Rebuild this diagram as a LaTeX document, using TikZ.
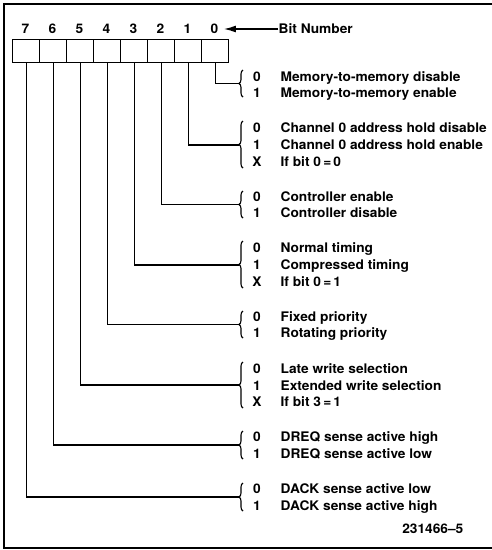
\documentclass[tikz,border=0pt]{standalone}
\usepackage{fontspec}
\setmainfont{TeX Gyre Heros}[FakeStretch=1.04]
\usetikzlibrary{decorations.pathreplacing,arrows.meta}
\begin{document}
\begin{tikzpicture}[x=1pt,y=-1pt,line width=1.3pt,
  bitbox/.style={draw,minimum width=27pt,minimum height=23pt,inner sep=0pt,anchor=north west},
  txt/.style={font=\bfseries\fontsize{13.2}{13.2}\selectfont,inner sep=0pt,text height=9.4pt,text depth=0pt},
  lbl/.style={txt,anchor=west},
  val/.style={txt,anchor=center},
  bracestyle/.style={decorate,decoration={brace,amplitude=4pt},line width=1.1pt},
]
\useasboundingbox (0,0) rectangle (492,550);
\begin{scope}
\clip (0,0) rectangle (492,550);
\draw[line width=1.8pt] (500,4) -- (4,4) -- (4,548) -- (500,548);
\end{scope}

% register boxes and bit numbers
\foreach \i in {0,...,7}{
  \node[bitbox] (b\i) at ({12+(7-\i)*27},39) {};
  \node[val] (n\i) at ({25.5+(7-\i)*27},29) {\i};
}
\node[lbl] (bitnum) at (278,29) {Bit Number};
\draw[-{Latex[length=12pt,width=7pt]}] (bitnum.west) -- ([xshift=5pt]n0.east);

% group 0
\node[val] at (257,77) {0}; \node[lbl] at (280,77) {Memory-to-memory disable};
\node[val] at (257,93) {1}; \node[lbl] at (280,93) {Memory-to-memory enable};
\draw[bracestyle] (243,97) -- (243,70);
\coordinate (t0) at (239,83.5);
\draw (b0.south) |- (t0);

% group 1
\node[val] at (257,128) {0}; \node[lbl] at (280,128) {Channel 0 address hold disable};
\node[val] at (257,145) {1}; \node[lbl] at (280,145) {Channel 0 address hold enable};
\node[val] at (257,162) {X}; \node[lbl] at (280,162) {If bit 0\,=\,0};
\draw[bracestyle] (243,168) -- (243,121);
\coordinate (t1) at (239,145);
\draw (b1.south) |- (t1);

% group 2
\node[val] at (257,197) {0}; \node[lbl] at (280,197) {Controller enable};
\node[val] at (257,213) {1}; \node[lbl] at (280,213) {Controller disable};
\draw[bracestyle] (243,218) -- (243,191);
\coordinate (t2) at (239,204.5);
\draw (b2.south) |- (t2);

% group 3
\node[val] at (257,248) {0}; \node[lbl] at (280,248) {Normal timing};
\node[val] at (257,265) {1}; \node[lbl] at (280,265) {Compressed timing};
\node[val] at (257,282) {X}; \node[lbl] at (280,282) {If bit 0\,=\,1};
\draw[bracestyle] (243,288) -- (243,241);
\coordinate (t3) at (239,265);
\draw (b3.south) |- (t3);

% group 4
\node[val] at (257,317) {0}; \node[lbl] at (280,317) {Fixed priority};
\node[val] at (257,333) {1}; \node[lbl] at (280,333) {Rotating priority};
\draw[bracestyle] (243,338) -- (243,311);
\coordinate (t4) at (239,324.5);
\draw (b4.south) |- (t4);

% group 5
\node[val] at (257,369) {0}; \node[lbl] at (280,369) {Late write selection};
\node[val] at (257,386) {1}; \node[lbl] at (280,386) {Extended write selection};
\node[val] at (257,402) {X}; \node[lbl] at (280,402) {If bit 3\,=\,1};
\draw[bracestyle] (243,408) -- (243,362);
\coordinate (t5) at (239,385);
\draw (b5.south) |- (t5);

% group 6
\node[val] at (257,437) {0}; \node[lbl] at (280,437) {DREQ sense active high};
\node[val] at (257,454) {1}; \node[lbl] at (280,454) {DREQ sense active low};
\draw[bracestyle] (243,459) -- (243,431);
\coordinate (t6) at (239,445);
\draw (b6.south) |- (t6);

% group 7
\node[val] at (257,489) {0}; \node[lbl] at (280,489) {DACK sense active low};
\node[val] at (257,506) {1}; \node[lbl] at (280,506) {DACK sense active high};
\draw[bracestyle] (243,511) -- (243,483);
\coordinate (t7) at (239,497);
\draw (b7.south) |- (t7);

\node[txt,anchor=east] (fig) at (464,529) {231466--5};
\end{tikzpicture}
\end{document}
